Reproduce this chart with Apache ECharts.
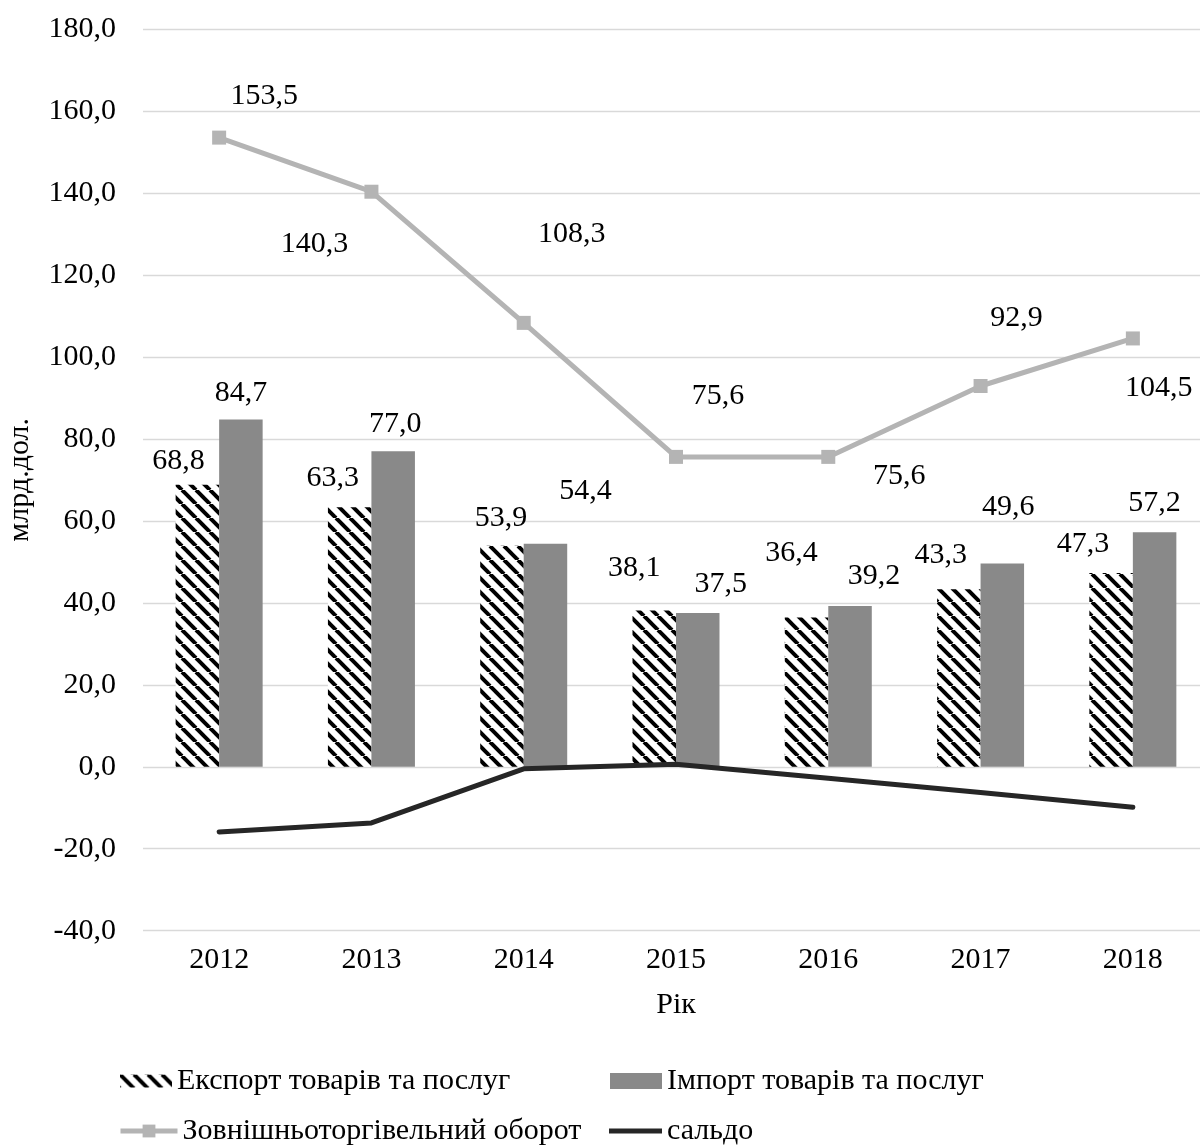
<!DOCTYPE html>
<html>
<head>
<meta charset="utf-8">
<script src="https://cdn.jsdelivr.net/npm/echarts@6/dist/echarts.min.js"></script>
<style>
html,body{margin:0;padding:0;background:#fff;}
#chart{width:1200px;height:1146px;}
</style>
</head>
<body>
<div id="chart"></div>
<script>
// ---- data ----
const years = ['2012','2013','2014','2015','2016','2017','2018'];
const exportVals = [68.8, 63.3, 53.9, 38.1, 36.4, 43.3, 47.3];
const importVals = [84.7, 77.0, 54.4, 37.5, 39.2, 49.6, 57.2];
const turnoverVals = [153.5, 140.3, 108.3, 75.6, 75.6, 92.9, 104.5];
const saldoVals = [-15.9, -13.7, -0.5, 0.6, -2.8, -6.3, -9.9];
const seriesNames = ['Експорт товарів та послуг', 'Імпорт товарів та послуг', 'Зовнішньоторгівельний оборот', 'сальдо'];

// ---- label placement (style, not data) ----
const exportLabelOffsets = [[-19,-9],[-17,-14],[-1,-13],[-20,-27],[-15,-49],[-18,-19],[-28,-14]];
const importLabelOffsets = [[0,-11],[2,-12],[40,-38],[23,-14],[24,-15],[6,-41],[0,-14]];
const turnoverLabelOffsets = [[45,-41],[-57,52],[48,-89],[42,-61],[71,19],[36,-68],[26,50]];

const FONT = 'Liberation Serif';
const fmt = v => Number(v).toFixed(1).replace('.', ',');

function hatchCanvas(){
  const s = 14;
  const c = document.createElement('canvas');
  c.width = s; c.height = s;
  const g = c.getContext('2d');
  g.fillStyle = '#ffffff';
  g.fillRect(0,0,s,s);
  g.strokeStyle = '#000000';
  g.lineWidth = 4;
  for (const k of [-s, 0, s]) {
    g.beginPath(); g.moveTo(k, 0); g.lineTo(k + s, s); g.stroke();
  }
  return c;
}
const hatch = {image: hatchCanvas(), repeat: 'repeat'};

const withOffsets = (vals, offs) => vals.map((v, i) => ({value: v, label: {offset: offs[i]}}));

const labelBase = {
  show: true, color: '#000', fontFamily: FONT, fontSize: 30, lineHeight: 30,
  formatter: p => fmt(p.value)
};

const legendBase = {
  orient: 'horizontal', itemGap: 0, padding: 0,
  textStyle: {fontFamily: FONT, fontSize: 30, color: '#000', lineHeight: 30},
  selectedMode: false
};

const chart = echarts.init(document.getElementById('chart'));
chart.setOption({
  animation: false,
  backgroundColor: '#fff',
  textStyle: {fontFamily: FONT},
  grid: {left: 143, width: 1066, top: 29, height: 901.7, containLabel: false, outerBoundsMode: 'none'},
  legend: [
    Object.assign({}, legendBase, {left: 120, top: 1066, itemWidth: 52, itemHeight: 13, data: [{name: seriesNames[0], icon: 'rect'}]}),
    Object.assign({}, legendBase, {left: 610, top: 1066, itemWidth: 52, itemHeight: 16, data: [{name: seriesNames[1], icon: 'rect'}]}),
    Object.assign({}, legendBase, {left: 118, top: 1116, itemWidth: 57, itemHeight: 16, lineStyle: {width: 5}, data: [seriesNames[2]]}),
    Object.assign({}, legendBase, {left: 609, top: 1116, itemWidth: 53, itemHeight: 5, data: [{name: seriesNames[3], icon: 'rect'}]})
  ],
  xAxis: {
    type: 'category', data: years, boundaryGap: true,
    axisLine: {show: false}, axisTick: {show: false},
    axisLabel: {fontFamily: FONT, fontSize: 30, color: '#000', margin: 14, lineHeight: 30},
    name: 'Рік', nameLocation: 'middle', nameGap: 59,
    nameTextStyle: {fontFamily: FONT, fontSize: 30, color: '#000', lineHeight: 30}
  },
  yAxis: {
    type: 'value', min: -40, max: 180, interval: 20,
    axisLine: {show: false}, axisTick: {show: false},
    splitLine: {lineStyle: {color: '#d9d9d9', width: 1.3}},
    axisLabel: {fontFamily: FONT, fontSize: 30, color: '#000', margin: 27, formatter: v => fmt(v)},
    name: 'млрд.дол.', nameLocation: 'middle', nameGap: 108,
    nameTextStyle: {fontFamily: FONT, fontSize: 30, color: '#000', lineHeight: 30}
  },
  series: [
    {
      name: seriesNames[0], type: 'bar', barWidth: 43.5, barGap: '0%',
      data: withOffsets(exportVals, exportLabelOffsets),
      itemStyle: {color: hatch},
      label: Object.assign({}, labelBase, {position: 'top', distance: 0}),
      z: 2
    },
    {
      name: seriesNames[1], type: 'bar', barWidth: 43.5, barGap: '0%',
      data: withOffsets(importVals, importLabelOffsets),
      itemStyle: {color: '#898989'},
      label: Object.assign({}, labelBase, {position: 'top', distance: 0}),
      z: 2
    },
    {
      name: seriesNames[2], type: 'line',
      data: withOffsets(turnoverVals, turnoverLabelOffsets),
      symbol: 'rect', symbolSize: 14,
      itemStyle: {color: '#b4b4b4'},
      lineStyle: {color: '#b4b4b4', width: 5},
      label: Object.assign({}, labelBase, {position: 'inside'}),
      z: 4
    },
    {
      name: seriesNames[3], type: 'line',
      data: saldoVals,
      symbol: 'none',
      itemStyle: {color: '#262626'},
      lineStyle: {color: '#262626', width: 5, cap: 'round', join: 'round'},
      z: 5
    }
  ]
});
</script>
</body>
</html>
